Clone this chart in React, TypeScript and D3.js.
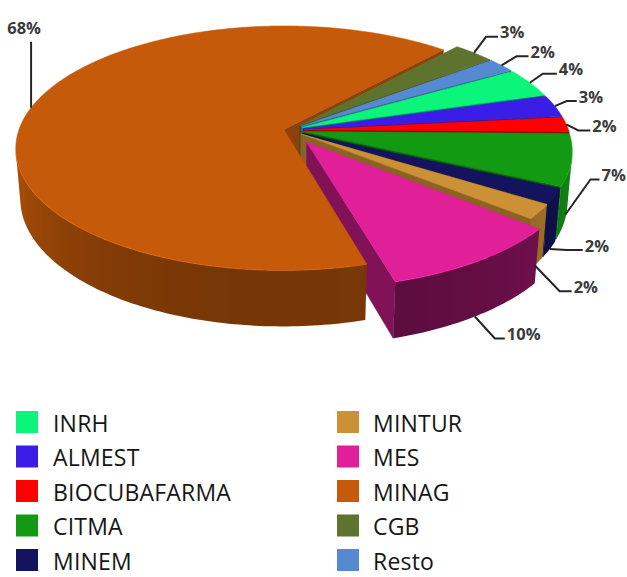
import React from 'react';
import * as d3 from 'd3';

// ---- data ----
const categories = ['CGB', 'Resto', 'INRH', 'ALMEST', 'BIOCUBAFARMA', 'CITMA', 'MINEM', 'MINTUR', 'MES', 'MINAG'];
const values = [3, 2, 4, 3, 2, 7, 2, 2, 10, 68];
const valueLabels = ['3%', '2%', '4%', '3%', '2%', '7%', '2%', '2%', '10%', '68%'];
const colors = ['#5e732e', '#558ad2', '#0af57a', '#3a1ee8', '#ff0000', '#129a12', '#13135e', '#cc9035', '#e01f98', '#c55a0a'];
const legendLeft = ['INRH', 'ALMEST', 'BIOCUBAFARMA', 'CITMA', 'MINEM'];
const legendRight = ['MINTUR', 'MES', 'MINAG', 'CGB', 'Resto'];

// ---- layout / style ----
const W = 627, H = 577;
const CX = 289, CY = 130, S = 265;
const PHI = 26.8 * Math.PI / 180;
const DIST = 5.84;
const TH = 0.215;
const R = 1;
const START = 42 * Math.PI / 180;
const explode = [0.055, 0.055, 0.055, 0.055, 0.055, 0.055, 0.055, 0.055, 0.12, 0.02];
const wallTone = [1, 1, 1, 1, 1, 1, 1, 1, 0.68, 1];
const sinP = Math.sin(PHI), cosP = Math.cos(PHI);
const CAMZ = DIST * cosP;

const labelLayout = [
  { frac: 0.5, t: 0, ex: 12, ey: -16, hl: 12 },
  { frac: 0.5, t: 0, ex: 15, ey: -9, hl: 12 },
  { frac: 0.5, t: 0, ex: 13, ey: -9, hl: 14 },
  { frac: 0.5, t: 0, ex: 12, ey: -5, hl: 10 },
  { frac: 0.5, t: 0, ex: 12, ey: 6, hl: 12 },
  { frac: 0.65, t: 0.9, ex: 25, ey: -35, hl: 9 },
  { frac: 0.5, t: 1, ex: 17, ey: 1, hl: 16 },
  { frac: 0.5, t: 1, ex: 25, ey: 26, hl: 12 },
  { frac: 0.5, t: 1, ex: 20, ey: 22, hl: 10 },
  { frac: 0.49, t: 0, ex: 0, ey: -66, hl: 0, mid: true },
];

function proj(X: number, Y: number, Z: number): [number, number, number] {
  const d = DIST - (Y * sinP + Z * cosP);
  const k = DIST / d;
  return [CX + S * X * k, CY + S * (Z * sinP - Y * cosP) * k, d];
}

function shadeFactor(nx: number, nz: number) {
  return 0.95 - 0.35 * Math.max(0, nz);
}

export default function App() {
  const pie = d3.pie<number>().sort(null).value((d) => d).startAngle(START).endAngle(START + 2 * Math.PI);
  const arcs = pie(values);
  const lineGen = d3.line().curve(d3.curveLinearClosed);
  const openLine = d3.line();
  const radialWalls: { d: string; fill: string; depth: number }[] = [];
  const outerWalls: { d: string; rimD: string; rimC: string; id: string; stops: { o: number; c: string }[]; x1: number; x2: number; depth: number }[] = [];
  const tops: { d: string; fill: string }[] = [];
  const labels: { pts: [number, number][]; tx: number; ty: number; anchor: string; text: string }[] = [];

  arcs.forEach((arc, i) => {
    const a0 = arc.startAngle - Math.PI / 2;
    const a1 = arc.endAngle - Math.PI / 2;
    const am = (a0 + a1) / 2;
    const e = explode[i];
    const ox = e * Math.cos(am), oz = e * Math.sin(am);
    const base = d3.rgb(colors[i]);
    const shade = (nx: number, nz: number) => {
      const f = shadeFactor(nx, nz) * wallTone[i];
      return d3.rgb(base.r * f, base.g * f, base.b * f).formatHex();
    };
    const rim = (a: number, r: number, y: number) => proj(ox + r * Math.cos(a), y, oz + r * Math.sin(a));
    const xy = (p: [number, number, number]) => [p[0], p[1]] as [number, number];

    // top face
    const n = Math.max(2, Math.ceil((a1 - a0) / (Math.PI / 180)));
    const pts: [number, number][] = [xy(proj(ox, 0, oz))];
    for (let j = 0; j <= n; j++) pts.push(xy(rim(a0 + (a1 - a0) * j / n, R, 0)));
    tops.push({ d: lineGen(pts) as string, fill: base.formatHex() });

    // outer wall: contiguous visible runs
    const nw = Math.max(2, Math.ceil((a1 - a0) / (Math.PI / 180)));
    const visible: boolean[] = [];
    for (let j = 0; j < nw; j++) {
      const bm = a0 + (a1 - a0) * (j + 0.5) / nw;
      const nx = Math.cos(bm), nz = Math.sin(bm);
      const px = ox + R * nx, pz = oz + R * nz;
      visible.push(nx * (0 - px) + nz * (CAMZ - pz) > 0);
    }
    let j = 0, run = 0;
    while (j < nw) {
      if (!visible[j]) { j++; continue; }
      let k = j;
      while (k < nw && visible[k]) k++;
      const angs: number[] = [];
      for (let m = j; m <= k; m++) angs.push(a0 + (a1 - a0) * m / nw);
      const topP = angs.map((a) => xy(rim(a, R, 0)));
      const botP = angs.map((a) => xy(rim(a, R, -TH))).reverse();
      const xs = topP.map((p) => p[0]).concat(botP.map((p) => p[0]));
      const x1 = Math.min(...xs), x2 = Math.max(...xs);
      const stops = angs
        .map((a) => {
          const p = rim(a, R, -TH / 2);
          return { o: x2 > x1 ? (p[0] - x1) / (x2 - x1) : 0, c: shade(Math.cos(a), Math.sin(a)) };
        })
        .sort((u, v) => u.o - v.o);
      const amid = angs[Math.floor(angs.length / 2)];
      const mp = rim(amid, R, -TH / 2);
      outerWalls.push({
        d: lineGen(topP.concat(botP)) as string,
        rimD: openLine(topP) as string,
        rimC: base.brighter(0.35).formatHex(),
        id: `g${i}_${run}`, stops, x1, x2, depth: mp[2],
      });
      run++;
      j = k;
    }

    // radial walls
    const radial: [number, number, number][] = [
      [a0, Math.sin(a0), -Math.cos(a0)],
      [a1, -Math.sin(a1), Math.cos(a1)],
    ];
    radial.forEach(([a, nx, nz]) => {
      const px = ox + 0.5 * R * Math.cos(a), pz = oz + 0.5 * R * Math.sin(a);
      if (nx * (0 - px) + nz * (CAMZ - pz) <= 0) return;
      const q = [rim(a, 0, 0), rim(a, R, 0), rim(a, R, -TH), rim(a, 0, -TH)].map(xy);
      radialWalls.push({ d: lineGen(q) as string, fill: shade(nx, nz), depth: proj(px, -TH / 2, pz)[2] });
    });

    // label
    const L = labelLayout[i];
    const la = a0 + (a1 - a0) * L.frac;
    const p0 = xy(rim(la, R, -TH * L.t));
    const p1: [number, number] = [p0[0] + L.ex, p0[1] + L.ey];
    const p2: [number, number] = [p1[0] + L.hl, p1[1]];
    if (L.mid) {
      labels.push({ pts: [p0, p1], tx: p1[0] - 7, ty: p1[1] - 7.5, anchor: 'middle', text: valueLabels[i] });
    } else {
      labels.push({ pts: [p0, p1, p2], tx: p2[0] + 2, ty: p2[1] + 1.5, anchor: 'start', text: valueLabels[i] });
    }
  });

  radialWalls.sort((a, b) => b.depth - a.depth);
  outerWalls.sort((a, b) => b.depth - a.depth);

  const legendRow = (name: string, j: number, col: number) => {
    const idx = categories.indexOf(name);
    const bx = col === 0 ? 16 : 337;
    const tx = col === 0 ? 53 : 373;
    const y = 411 + j * 34.5;
    return (
      <g key={name}>
        <rect x={bx} y={y} width={22} height={22} fill={colors[idx]} />
        <text x={tx} y={y + 20.7} fontFamily="'Open Sans', sans-serif" fontSize={23} letterSpacing={0.2} fill="#161616">{name}</text>
      </g>
    );
  };

  return (
    <svg width={W} height={H} style={{ position: 'absolute', left: 0, top: 0, display: 'block', background: '#fff' }}>
      <defs>
        {outerWalls.map((w) => (
          <linearGradient key={w.id} id={w.id} gradientUnits="userSpaceOnUse" x1={w.x1} x2={w.x2} y1={0} y2={0}>
            {w.stops.map((s, k) => (
              <stop key={k} offset={s.o} stopColor={s.c} />
            ))}
          </linearGradient>
        ))}
      </defs>
      <rect width={W} height={H} fill="#fff" />
      <g>
        {radialWalls.map((w, i) => (
          <path key={'r' + i} d={w.d} fill={w.fill} stroke={w.fill} strokeWidth={0.5} strokeLinejoin="round" />
        ))}
      </g>
      <g>
        {outerWalls.map((w) => (
          <path key={w.id} d={w.d} fill={`url(#${w.id})`} />
        ))}
      </g>
      <g>
        {tops.map((t, i) => (
          <path key={'t' + i} d={t.d} fill={t.fill} stroke={t.fill} strokeWidth={0.5} />
        ))}
      </g>
      <g>
        {outerWalls.map((w) => (
          <path key={'rim' + w.id} d={w.rimD} fill="none" stroke={w.rimC} strokeWidth={1.2} strokeOpacity={0.55} />
        ))}
      </g>
      <g>
        {labels.map((l, i) => (
          <g key={'l' + i}>
            <path d={openLine(l.pts) as string} fill="none" stroke="#262626" strokeWidth={2} />
            <text x={l.tx} y={l.ty} textAnchor={l.anchor} fontFamily="'Open Sans', sans-serif" fontWeight={700} fontSize={16.5} fill="#3a3a3a">{l.text}</text>
          </g>
        ))}
      </g>
      <g>
        {legendLeft.map((n, j) => legendRow(n, j, 0))}
        {legendRight.map((n, j) => legendRow(n, j, 1))}
      </g>
    </svg>
  );
}
